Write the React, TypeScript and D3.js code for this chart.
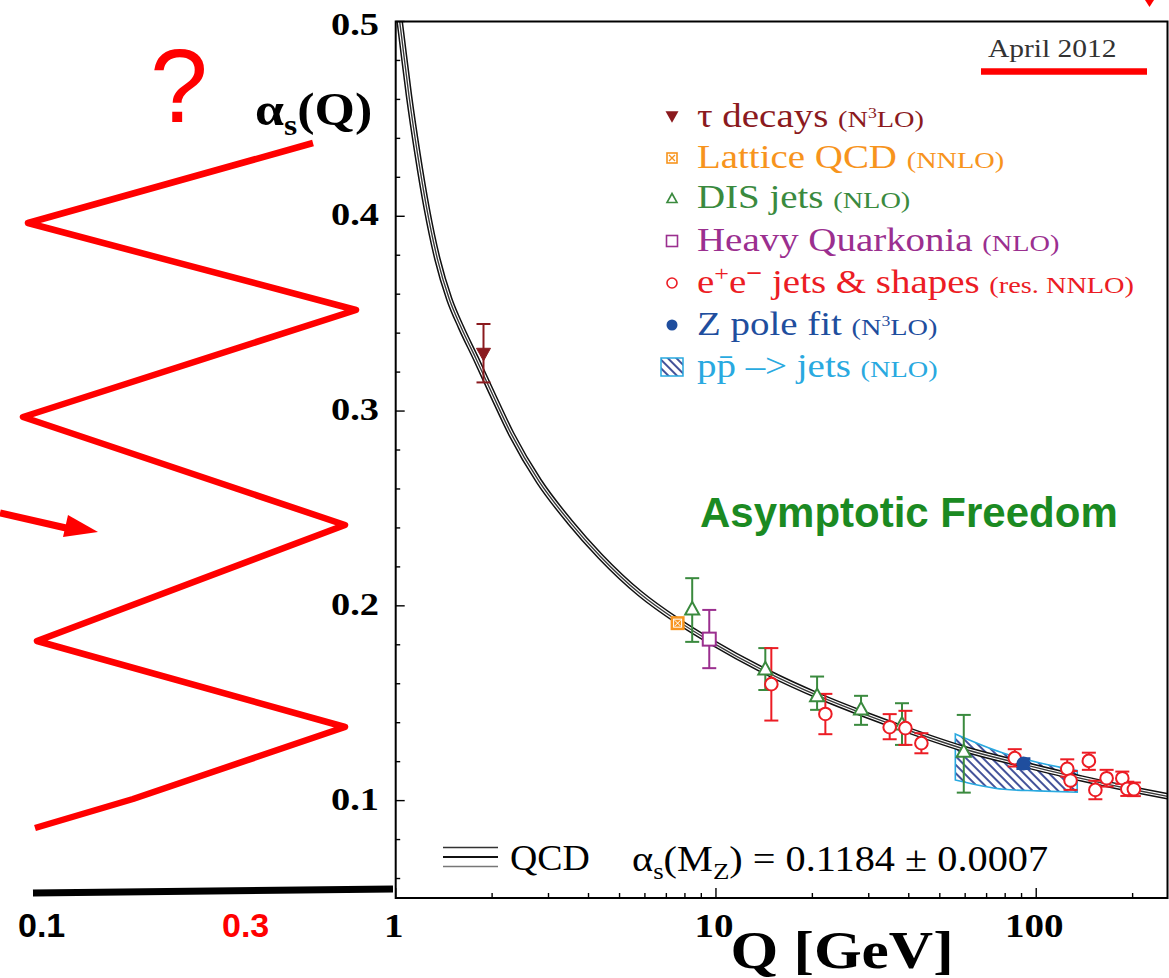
import React from 'react';
import * as d3 from 'd3';

const W = 1169;
const H = 978;
const PLOT = { left: 395.7, right: 1167.5, top: 21.5, bottom: 898 };

// axes
const qDomain = [1, 257];
const alphaDomain = [0.05, 0.5];
const yTickValues = [0.1, 0.2, 0.3, 0.4, 0.5];
const yTickLabels = ['0.1', '0.2', '0.3', '0.4', '0.5'];
const xTickValues = [1, 10, 100];
const xTickLabels = ['1', '10', '100'];

// QCD running coupling curve
const qcdQ = [1.02, 1.04, 1.1, 1.17, 1.25, 1.35, 1.47, 1.6, 1.78, 2.0, 2.3, 2.8, 3.5, 4.35, 5.8, 7.6, 9.6, 14.4, 21, 29, 40, 61, 91.2, 139, 200, 257];
const qcdAlpha = [0.505, 0.494, 0.462, 0.432, 0.404, 0.378, 0.3575, 0.343, 0.327, 0.309, 0.288, 0.264, 0.243, 0.2255, 0.2062, 0.1922, 0.1818, 0.166, 0.1536, 0.1444, 0.136, 0.126, 0.1186, 0.1113, 0.1057, 0.1022];

// measurements: q, alpha, low, high
const tauDecays = [{ q: 1.88, a: 0.329, lo: 0.3147, hi: 0.3447 }];
const latticeQCD = [{ q: 7.59, a: 0.1911, lo: 0.1897, hi: 0.1925 }];
const disJets = [
  { q: 8.43, a: 0.1988, lo: 0.1815, hi: 0.2142 },
  { q: 14.26, a: 0.168, lo: 0.1568, hi: 0.1783 },
  { q: 20.69, a: 0.1543, lo: 0.1466, hi: 0.1637 },
  { q: 28.38, a: 0.1474, lo: 0.1389, hi: 0.1538 },
  { q: 38.1, a: 0.1397, lo: 0.1286, hi: 0.15 },
  { q: 59.4, a: 0.1257, lo: 0.1041, hi: 0.144 },
];
const heavyQuarkonia = [{ q: 9.53, a: 0.1829, lo: 0.168, hi: 0.1979 }];
const eeJets = [
  { q: 14.89, a: 0.1598, lo: 0.1411, hi: 0.1783 },
  { q: 21.96, a: 0.1445, lo: 0.1341, hi: 0.1548 },
  { q: 34.87, a: 0.1377, lo: 0.1315, hi: 0.1444 },
  { q: 39.05, a: 0.1372, lo: 0.1286, hi: 0.1461 },
  { q: 43.8, a: 0.1295, lo: 0.1243, hi: 0.1346 },
  { q: 85.7, a: 0.1218, lo: 0.1175, hi: 0.1264 },
  { q: 125, a: 0.1163, lo: 0.1123, hi: 0.1212 },
  { q: 128, a: 0.1103, lo: 0.1055, hi: 0.1152 },
  { q: 146, a: 0.1204, lo: 0.1158, hi: 0.1246 },
  { q: 153, a: 0.1055, lo: 0.1007, hi: 0.1102 },
  { q: 165.9, a: 0.1115, lo: 0.1072, hi: 0.1158 },
  { q: 185.7, a: 0.1115, lo: 0.1086, hi: 0.1149 },
  { q: 192.5, a: 0.106, lo: 0.1024, hi: 0.1097 },
  { q: 201.8, a: 0.1058, lo: 0.1023, hi: 0.1093 },
];
const zPole = [{ q: 91.2, a: 0.119, lo: 0.1165, hi: 0.1215 }];
const ppbarBandQ = [55.9, 79.2, 100.7, 134.3];
const ppbarBandHi = [0.1342, 0.1243, 0.1197, 0.1154];
const ppbarBandLo = [0.1106, 0.1058, 0.105, 0.1043];

// annotation overlay (pixel drawing)
const zigzag: [number, number][] = [[313, 143], [28, 223], [356, 310], [23, 417], [345, 525], [37, 641], [345, 727], [133, 799], [35, 828]];

const C = {
  tau: '#8b1a1e',
  lat: '#f7941d',
  dis: '#3a8a3e',
  hq: '#9b2f8f',
  ee: '#ec1c24',
  z: '#1f4e9e',
  pp: '#29a9e0',
  hatch: '#2e3f8f',
  red: '#ff0000',
  green: '#1b8a22',
};

const SERIF = '"Liberation Serif", "Times New Roman", serif';
const SANS = '"Liberation Sans", Arial, sans-serif';

const ST = ({ x, y, sx = 1, anchor = 'start', children, ...rest }: any) => (
  <g transform={`translate(${x},${y}) scale(${sx},1)`}>
    <text x={0} y={0} textAnchor={anchor} {...rest}>{children}</text>
  </g>
);

export default function App() {
  const x = d3.scaleLog().domain(qDomain).range([PLOT.left, PLOT.right]);
  const y = d3.scaleLinear().domain(alphaDomain).range([PLOT.bottom, PLOT.top]);

  const curvePts = qcdQ.map((q, i) => [x(q), y(qcdAlpha[i])] as [number, number]);
  const curvePath = d3.line().curve(d3.curveMonotoneX)(curvePts) || '';

  const band = d3
    .area<number>()
    .x((q) => x(q))
    .y0((_, i) => y(ppbarBandLo[i]))
    .y1((_, i) => y(ppbarBandHi[i]))
    .curve(d3.curveMonotoneX)(ppbarBandQ) || '';

  const xMinor = [2, 3, 4, 5, 6, 7, 8, 9, 20, 30, 40, 50, 60, 70, 80, 90, 200];
  const yMinor = d3.range(0.06, 0.5, 0.02).filter((v) => Math.abs(v * 10 - Math.round(v * 10)) > 1e-6);

  const errBar = (d: any, color: string, key: string, sw = 2, cap = 7) => {
    const cx = x(d.q);
    return (
      <g key={key} stroke={color} strokeWidth={sw} fill="none">
        <line x1={cx} x2={cx} y1={y(d.lo)} y2={y(d.hi)} />
        <line x1={cx - cap} x2={cx + cap} y1={y(d.lo)} y2={y(d.lo)} />
        <line x1={cx - cap} x2={cx + cap} y1={y(d.hi)} y2={y(d.hi)} />
      </g>
    );
  };
  const tri = (cx: number, cy: number, s: number, down = false) => {
    const h = s * 0.9;
    return down
      ? `M${cx - s / 2},${cy - h / 2}L${cx + s / 2},${cy - h / 2}L${cx},${cy + h / 2}Z`
      : `M${cx - s / 2},${cy + h / 2}L${cx + s / 2},${cy + h / 2}L${cx},${cy - h / 2}Z`;
  };

  const legendY = [117, 158, 198, 241, 283, 325, 367];
  const LX = 672;
  const TX = 697;
  const mainFs = 33;
  const subFs = 24;
  const lsx = 1.18;

  return (
    <svg width={W} height={H} viewBox={`0 0 ${W} ${H}`} style={{ position: 'absolute', left: 0, top: 0, background: '#fff' }}>
      <defs>
        <pattern id="hatch" width="6" height="6" patternUnits="userSpaceOnUse" patternTransform="rotate(45)">
          <line x1="0" y1="3" x2="6" y2="3" stroke={C.hatch} strokeWidth="1.8" />
        </pattern>
        <clipPath id="plotClip">
          <rect x={PLOT.left} y={PLOT.top} width={PLOT.right - PLOT.left} height={PLOT.bottom - PLOT.top} />
        </clipPath>
      </defs>
      <rect x={0} y={0} width={W} height={H} fill="#fff" />

      {/* ppbar band */}
      <path d={band} fill="url(#hatch)" stroke={C.pp} strokeWidth={1.6} />

      {/* QCD curve (double-line style) */}
      <g clipPath="url(#plotClip)" fill="none">
        <path d={curvePath} stroke="#111" strokeWidth={6.6} />
        <path d={curvePath} stroke="#fff" strokeWidth={3.6} />
        <path d={curvePath} stroke="#3a3a3a" strokeWidth={1.4} />
      </g>

      {/* frame */}
      <rect x={PLOT.left} y={PLOT.top} width={PLOT.right - PLOT.left} height={PLOT.bottom - PLOT.top} fill="none" stroke="#000" strokeWidth={2} />

      {/* ticks */}
      <g stroke="#000" strokeWidth={1.4}>
        {yTickValues.map((v) => (
          <line key={'ym' + v} x1={PLOT.left} x2={PLOT.left + 9} y1={y(v)} y2={y(v)} />
        ))}
        {yMinor.map((v) => (
          <line key={'yn' + v} x1={PLOT.left} x2={PLOT.left + 4.5} y1={y(v)} y2={y(v)} />
        ))}
        {xTickValues.map((v) => (
          <line key={'xm' + v} x1={x(v)} x2={x(v)} y1={PLOT.bottom} y2={PLOT.bottom - 10} />
        ))}
        {xMinor.map((v) => (
          <line key={'xn' + v} x1={x(v)} x2={x(v)} y1={PLOT.bottom} y2={PLOT.bottom - 5} />
        ))}
      </g>

      {/* y tick labels */}
      {yTickValues.map((v, i) => (
        <ST key={'yl' + v} x={379} y={Math.max(y(v) + 9, 35)} sx={1.2} anchor="end" fontFamily={SERIF} fontWeight="bold" fontSize={32} fill="#000">
          {yTickLabels[i]}
        </ST>
      ))}
      {/* x tick labels */}
      {xTickValues.map((v, i) => (
        <ST key={'xl' + v} x={x(v) - 2} y={937} sx={1.15} anchor="middle" fontFamily={SERIF} fontWeight="bold" fontSize={34} fill="#000">
          {xTickLabels[i]}
        </ST>
      ))}

      {/* axis titles */}
      <ST x={842} y={968} sx={1.18} anchor="middle" fontFamily={SERIF} fontWeight="bold" fontSize={52} fill="#000">
        Q [GeV]
      </ST>
      <ST x={255} y={125} sx={1.13} fontFamily={SERIF} fontWeight="bold" fontSize={46} fill="#000">
        α<tspan fontSize={30} dy={10}>s</tspan><tspan dy={-10}>(Q)</tspan>
      </ST>

      {/* data: error bars */}
      {disJets.map((d, i) => errBar(d, C.dis, 'de' + i))}
      {heavyQuarkonia.map((d, i) => errBar(d, C.hq, 'he' + i))}
      {eeJets.map((d, i) => errBar(d, C.ee, 'ee' + i))}
      {tauDecays.map((d, i) => errBar(d, C.tau, 'te' + i))}
      {latticeQCD.map((d, i) => errBar(d, C.lat, 'le' + i, 2, 5))}
      {zPole.map((d, i) => errBar(d, C.z, 'ze' + i, 3, 7))}

      {/* markers */}
      {disJets.map((d, i) => (
        <path key={'dm' + i} d={tri(x(d.q), y(d.a), 14)} fill="#fff" stroke={C.dis} strokeWidth={2} />
      ))}
      {heavyQuarkonia.map((d, i) => (
        <rect key={'hm' + i} x={x(d.q) - 6.5} y={y(d.a) - 6.5} width={13} height={13} fill="#fff" stroke={C.hq} strokeWidth={2} />
      ))}
      {eeJets.map((d, i) => (
        <circle key={'em' + i} cx={x(d.q)} cy={y(d.a)} r={6.3} fill="#fff" stroke={C.ee} strokeWidth={2} />
      ))}
      {tauDecays.map((d, i) => (
        <path key={'tm' + i} d={tri(x(d.q), y(d.a), 14, true)} fill={C.tau} stroke={C.tau} strokeWidth={1} />
      ))}
      {latticeQCD.map((d, i) => {
        const cx = x(d.q);
        const cy = y(d.a);
        return (
          <g key={'lm' + i}>
            <rect x={cx - 7} y={cy - 7} width={14} height={14} fill={C.lat} />
            <rect x={cx - 4} y={cy - 4} width={8} height={8} fill="none" stroke="#fff" strokeWidth={1} />
            <path d={`M${cx - 3},${cy - 3}L${cx + 3},${cy + 3}M${cx - 3},${cy + 3}L${cx + 3},${cy - 3}`} stroke="#fff" strokeWidth={1} />
          </g>
        );
      })}
      {zPole.map((d, i) => (
        <circle key={'zm' + i} cx={x(d.q)} cy={y(d.a)} r={7} fill={C.z} />
      ))}

      {/* legend */}
      <g fontFamily={SERIF}>
        <path d={tri(LX, legendY[0], 13, true)} fill={C.tau} />
        <ST x={TX} y={legendY[0] + 10} sx={lsx} fontSize={mainFs} fill={C.tau}>
          τ decays <tspan fontSize={subFs}>(N</tspan><tspan fontSize={15} dy={-9}>3</tspan><tspan fontSize={subFs} dy={9}>LO)</tspan>
        </ST>

        <rect x={LX - 5} y={legendY[1] - 5} width={10} height={10} fill="none" stroke={C.lat} strokeWidth={1.6} />
        <path d={`M${LX - 3},${legendY[1] - 3}L${LX + 3},${legendY[1] + 3}M${LX - 3},${legendY[1] + 3}L${LX + 3},${legendY[1] - 3}`} stroke={C.lat} strokeWidth={1.4} />
        <ST x={TX} y={legendY[1] + 10} sx={lsx} fontSize={mainFs} fill={C.lat}>
          Lattice QCD <tspan fontSize={subFs}>(NNLO)</tspan>
        </ST>

        <path d={tri(LX, legendY[2], 10)} fill="none" stroke={C.dis} strokeWidth={1.6} />
        <ST x={TX} y={legendY[2] + 10} sx={lsx} fontSize={mainFs} fill={C.dis}>
          DIS jets <tspan fontSize={subFs}>(NLO)</tspan>
        </ST>

        <rect x={LX - 5.5} y={legendY[3] - 5.5} width={11} height={11} fill="none" stroke={C.hq} strokeWidth={1.6} />
        <ST x={TX} y={legendY[3] + 10} sx={lsx} fontSize={mainFs} fill={C.hq}>
          Heavy Quarkonia <tspan fontSize={subFs}>(NLO)</tspan>
        </ST>

        <circle cx={LX} cy={legendY[4]} r={5} fill="none" stroke={C.ee} strokeWidth={1.6} />
        <ST x={TX} y={legendY[4] + 10} sx={lsx} fontSize={mainFs} fill={C.ee}>
          e<tspan fontSize={22} dy={-12}>+</tspan><tspan dy={12}>e</tspan><tspan fontSize={24} fontWeight="bold" dy={-12}>−</tspan><tspan dy={12}>{'  jets & shapes '}</tspan><tspan fontSize={subFs}>(res. NNLO)</tspan>
        </ST>

        <circle cx={LX} cy={legendY[5]} r={5.5} fill={C.z} />
        <ST x={TX} y={legendY[5] + 10} sx={lsx} fontSize={mainFs} fill={C.z}>
          Z pole fit <tspan fontSize={subFs}>(N</tspan><tspan fontSize={15} dy={-9}>3</tspan><tspan fontSize={subFs} dy={9}>LO)</tspan>
        </ST>

        <rect x={LX - 11} y={legendY[6] - 9} width={22} height={18} fill="url(#hatch)" stroke={C.pp} strokeWidth={1.5} />
        <ST x={TX} y={legendY[6] + 10} sx={lsx} fontSize={mainFs} fill={C.pp}>
          pp̄ –&gt; jets <tspan fontSize={subFs}>(NLO)</tspan>
        </ST>
      </g>

      {/* QCD legend and formula */}
      <line x1={443} x2={498} y1={847.5} y2={847.5} stroke="#333" strokeWidth={1.5} />
      <line x1={443} x2={498} y1={857} y2={857} stroke="#111" strokeWidth={2.2} />
      <line x1={443} x2={498} y1={866.5} y2={866.5} stroke="#777" strokeWidth={1.6} />
      <ST x={510} y={870} sx={1.05} fontFamily={SERIF} fontSize={36} fill="#000">QCD</ST>
      <ST x={632} y={871} sx={1.12} fontFamily={SERIF} fontSize={36} fill="#000">
        α<tspan fontSize={24} dy={8}>s</tspan><tspan dy={-8}>(M</tspan><tspan fontSize={24} dy={8}>Z</tspan><tspan dy={-8}>) = 0.1184 ± 0.0007</tspan>
      </ST>

      {/* date */}
      <ST x={988} y={57} sx={1.18} fontFamily={SERIF} fontSize={25} fill="#333">April 2012</ST>
      <line x1={981} x2={1147} y1={71.5} y2={71.5} stroke={C.red} strokeWidth={6.5} />
      <path d="M1145,0L1154,0L1149.5,7Z" fill={C.red} />

      {/* Asymptotic freedom */}
      <text x={700} y={527} fontFamily={SANS} fontWeight="bold" fontSize={42} fill={C.green}>Asymptotic Freedom</text>

      {/* left overlay annotations */}
      <polyline points={zigzag.map((p) => p.join(',')).join(' ')} fill="none" stroke={C.red} strokeWidth={6.5} strokeLinejoin="round" strokeLinecap="butt" />
      <line x1={0} y1={513} x2={66} y2={528} stroke={C.red} strokeWidth={7} />
      <path d="M68,515L63,537L98,532Z" fill={C.red} />
      <text x={150} y={122} fontFamily={SANS} fontSize={104} fill={C.red}>?</text>
      <line x1={33} y1={893} x2={393} y2={889} stroke="#000" strokeWidth={7} />
      <text x={18} y={937} fontFamily={SANS} fontWeight="bold" fontSize={34} fill="#000">0.1</text>
      <text x={222} y={937} fontFamily={SANS} fontWeight="bold" fontSize={34} fill={C.red}>0.3</text>
    </svg>
  );
}
